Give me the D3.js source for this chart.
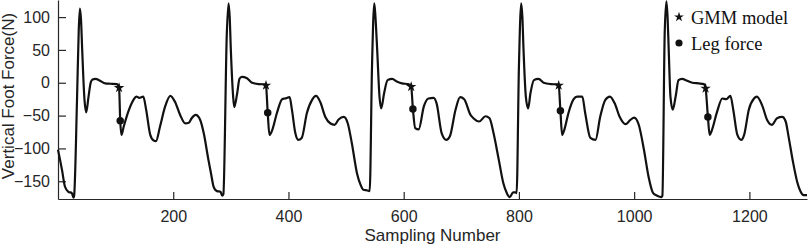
<!DOCTYPE html>
<html>
<head>
<meta charset="utf-8">
<script src="https://cdn.jsdelivr.net/npm/d3@7"></script>
<style>
  body { margin: 0; background: #fff; }
  .axis text { font-family: "Liberation Sans", Arial, sans-serif; font-size: 16px; fill: #262626; }
  .axis path, .axis line { stroke: #262626; stroke-width: 1.2; }
  .label { font-family: "Liberation Sans", Arial, sans-serif; font-size: 17px; fill: #262626; }
  .legend text { font-family: "Liberation Serif", "Times New Roman", serif; font-size: 18.5px; fill: #111; }
</style>
</head>
<body>
<svg id="chart"></svg>
<script>
// sample index / vertical foot force (N)
var samples = [0, 7, 12, 18, 24, 27, 28, 33, 36, 38, 40, 42, 46, 49, 53, 57, 60, 65, 73, 82, 91, 102, 106, 108, 110, 114, 122, 131, 136, 141, 148, 153, 160, 166, 170, 177, 186, 195, 203, 212, 221, 227, 232, 239, 247, 253, 261, 266, 270, 276, 282, 285, 287,
    293, 296, 298, 300, 304, 306, 311, 315, 319, 328, 337, 348, 360, 361, 364, 367, 371, 380, 389, 394, 402, 406, 412, 417, 423, 432, 441, 448, 455, 464, 473, 480, 487, 496, 503, 510, 519, 525, 530, 537, 541,
    545, 549, 551, 554, 558, 561, 566, 572, 580, 588, 597, 608, 613, 616, 620, 626, 635, 643, 652, 657, 666, 674, 680, 690, 698, 705, 716, 721, 731, 742, 749, 756, 765, 773, 779, 784, 790, 794, 796,
    800, 804, 806, 808, 812, 816, 820, 826, 834, 843, 855, 866, 869, 872, 875, 879, 886, 895, 901, 910, 915, 924, 933, 941, 950, 958, 966, 975, 985, 993, 1000, 1008, 1017, 1025, 1033, 1040, 1047, 1049,
    1053, 1056, 1058, 1060, 1063, 1067, 1072, 1077, 1083, 1092, 1101, 1112, 1121, 1124, 1128, 1131, 1135, 1144, 1153, 1160, 1167, 1172, 1179, 1186, 1191, 1199, 1208, 1213, 1222, 1231, 1239, 1248, 1257, 1263, 1268, 1276, 1283, 1289, 1294, 1300];
var force = [-102, -133, -158, -166, -168, -175, -172, -26, 80, 113, 95, 50, -26, -45, -21, 1, 5, 6, 3, -1, -1.5, -2, -7.6, -57.7, -79.5, -67, -44, -26, -21, -23, -21, -41, -79, -88, -89, -67, -36, -20, -29, -49, -62, -61, -54, -49, -57, -77, -117, -140, -158, -165, -166, -172, -170,
    75, 121, 100, 50, -21, -37, -16, 6, 9, 7, 0, -2, -2.5, -4, -45.6, -79.5, -74, -46, -25, -24, -22, -41, -77, -87, -84, -46, -26, -20, -29, -52, -62, -64, -56, -52, -62, -92, -138, -155, -163, -164, -165,
    24, 121, 100, 50, -21, -39, -16, 4, 6, 2, -1, -2, -6, -40, -69, -71, -36, -24, -23, -31, -77, -87, -82, -41, -22, -25, -49, -54, -59, -51, -54, -77, -117, -153, -168, -174, -167, -167, -168,
    24, 121, 100, 50, -21, -39, -16, 4, 6, 0, -2, -2.5, -4, -42.5, -79.5, -71, -46, -25, -21, -21, -46, -84, -87, -52, -26, -21, -31, -52, -63, -57, -53, -64, -102, -143, -168, -172, -174, -172,
    75, 124, 100, 50, -21, -41, -21, 4, 6, 3, 0, -1, -2, -8.5, -52, -79.5, -72, -44, -24, -25, -20, -41, -79, -87, -79, -41, -24, -21, -34, -57, -64, -54, -52, -59, -82, -122, -151, -166, -171, -171];

// GMM model estimate (stars) and leg force (dots)
var gmmX = [106, 361, 613, 869, 1124];
var gmmY = [-7.6, -4, -6, -4, -8.5];
var legX = [108, 364, 616, 872, 1128];
var legY = [-57.7, -45.6, -40, -42.5, -52];

var xTicks = [200, 400, 600, 800, 1000, 1200];
var yTicks = [-150, -100, -50, 0, 50, 100];
var legendLabels = ['GMM model', 'Leg force'];

var width = 809, height = 248;
var margin = { top: 0, right: 2, bottom: 49, left: 58 };

var svg = d3.select('#chart')
    .attr('width', width)
    .attr('height', height);

var x = d3.scaleLinear()
    .domain([0, 1300])
    .range([margin.left, width - margin.right]);

var y = d3.scaleLinear()
    .domain([-177, 126])
    .range([height - margin.bottom, margin.top]);

svg.append('g')
    .classed('axis', true)
    .attr('transform', 'translate(0,' + (height - margin.bottom) + ')')
    .call(d3.axisBottom(x).tickValues(xTicks).tickFormat(d3.format('d'))
        .tickSizeInner(-7).tickSizeOuter(0).tickPadding(12));

svg.append('g')
    .classed('axis', true)
    .attr('transform', 'translate(' + margin.left + ',0)')
    .call(d3.axisLeft(y).tickValues(yTicks).tickFormat(d3.format('d'))
        .tickSizeInner(-8).tickSizeOuter(0).tickPadding(8));

var points = samples.map((s, i) => [s, force[i]]);

var line = d3.line()
    .x(d => x(d[0]))
    .y(d => y(d[1]))
    .curve(d3.curveMonotoneX);

svg.append('path')
    .datum(points)
    .attr('fill', 'none')
    .attr('stroke', '#111')
    .attr('stroke-width', 2.2)
    .attr('stroke-linejoin', 'round')
    .attr('d', line);

var star = d3.symbol().type(d3.symbolStar).size(34);
var dot = d3.symbol().type(d3.symbolCircle).size(44);

svg.selectAll('.gmm')
    .data(gmmX)
    .enter()
    .append('path')
        .classed('gmm', true)
        .attr('d', star)
        .attr('fill', '#111')
        .attr('transform', (d, i) => 'translate(' + x(d) + ',' + y(gmmY[i]) + ')');

svg.selectAll('.leg')
    .data(legX)
    .enter()
    .append('path')
        .classed('leg', true)
        .attr('d', dot)
        .attr('fill', '#111')
        .attr('transform', (d, i) => 'translate(' + x(d) + ',' + y(legY[i]) + ')');

var legend = svg.append('g').classed('legend', true);
legend.append('path')
    .attr('d', d3.symbol().type(d3.symbolStar).size(30))
    .attr('fill', '#111')
    .attr('transform', 'translate(679,17)');
legend.append('path')
    .attr('d', d3.symbol().type(d3.symbolCircle).size(40))
    .attr('fill', '#111')
    .attr('transform', 'translate(679,43)');
legend.selectAll('text')
    .data(legendLabels)
    .enter()
    .append('text')
        .attr('x', 691)
        .attr('y', (d, i) => 24 + i * 26)
        .text(d => d);

svg.append('text')
    .classed('label', true)
    .attr('x', (margin.left + width - margin.right) / 2)
    .attr('y', 241)
    .style('text-anchor', 'middle')
    .text('Sampling Number');

svg.append('text')
    .classed('label', true)
    .attr('transform', 'translate(14,' + 96 + ') rotate(-90)')
    .style('text-anchor', 'middle')
    .text('Vertical Foot Force(N)');
</script>
</body>
</html>
